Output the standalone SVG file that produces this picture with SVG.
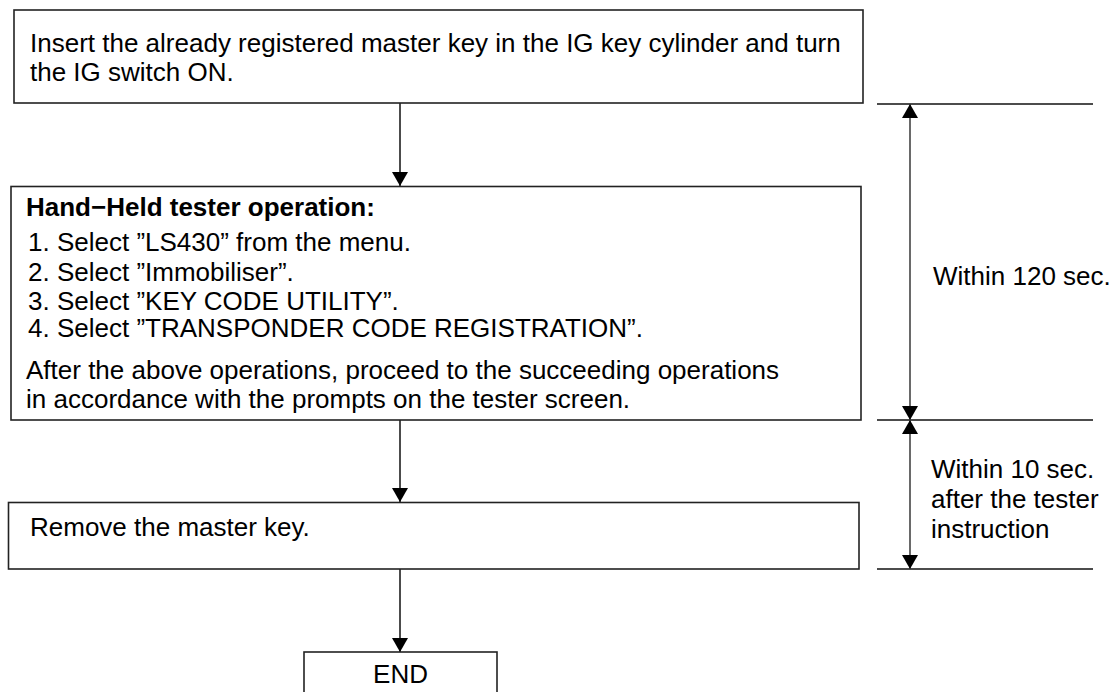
<svg xmlns="http://www.w3.org/2000/svg" width="1116" height="692" viewBox="0 0 1116 692">
  <style>
    .box { fill: #ffffff; stroke: #222222; stroke-width: 1.6; }
    .t { font-family: "Liberation Sans", Arial, sans-serif; font-size: 26px; fill: #000000; }
    .b { font-weight: bold; }
    .ln { fill: none; stroke: #111111; stroke-width: 1.5; }
    .dim { fill: none; stroke: #444444; stroke-width: 1.6; }
  </style>
  <defs>
    <marker id="arrow" markerUnits="userSpaceOnUse" markerWidth="14" markerHeight="16" viewBox="0 0 14 16" refX="14" refY="8" orient="auto-start-reverse">
      <path d="M0,0 L14,8 L0,16 Z" fill="#000000"/>
    </marker>
  </defs>
  <rect width="1116" height="692" fill="#ffffff"/>

  <g id="connectors">
    <line class="ln" x1="400" y1="103" x2="400" y2="186" marker-end="url(#arrow)"/>
    <line class="ln" x1="400" y1="420" x2="400" y2="502" marker-end="url(#arrow)"/>
    <line class="ln" x1="400" y1="569" x2="400" y2="652" marker-end="url(#arrow)"/>
  </g>

  <g id="node-insert">
    <rect class="box" x="14" y="10" width="849" height="93"/>
    <text class="t" x="30" y="52">Insert the already registered master key in the IG key cylinder and turn</text>
    <text class="t" x="30" y="81">the IG switch ON.</text>
  </g>

  <g id="node-tester">
    <rect class="box" x="11" y="186.5" width="850" height="233.5"/>
    <text class="t b" x="26" y="216">Hand−Held tester operation:</text>
    <text class="t" x="28" y="251">1. Select ”LS430” from the menu.</text>
    <text class="t" x="28" y="281">2. Select ”Immobiliser”.</text>
    <text class="t" x="28" y="309.5">3. Select ”KEY CODE UTILITY”.</text>
    <text class="t" x="28" y="337">4. Select ”TRANSPONDER CODE REGISTRATION”.</text>
    <text class="t" x="26" y="379">After the above operations, proceed to the succeeding operations</text>
    <text class="t" x="26" y="408">in accordance with the prompts on the tester screen.</text>
  </g>

  <g id="node-remove">
    <rect class="box" x="8.5" y="502.5" width="850.5" height="66.5"/>
    <text class="t" x="30" y="535.5">Remove the master key.</text>
  </g>

  <g id="node-end">
    <rect class="box" x="304" y="652" width="193" height="60"/>
    <text class="t" x="400.5" y="683" text-anchor="middle">END</text>
  </g>

  <g id="timing">
    <line class="ln" x1="877" y1="104" x2="1093" y2="104"/>
    <line class="ln" x1="877" y1="420" x2="1093" y2="420"/>
    <line class="ln" x1="877" y1="569" x2="1093" y2="569"/>
    <line class="dim" x1="910" y1="104" x2="910" y2="420" marker-start="url(#arrow)" marker-end="url(#arrow)"/>
    <line class="dim" x1="910" y1="420" x2="910" y2="569" marker-start="url(#arrow)" marker-end="url(#arrow)"/>
    <text class="t" x="933" y="285">Within 120 sec.</text>
    <text class="t" x="931" y="478">Within 10 sec.</text>
    <text class="t" x="931" y="508">after the tester</text>
    <text class="t" x="931" y="538">instruction</text>
  </g>
</svg>
